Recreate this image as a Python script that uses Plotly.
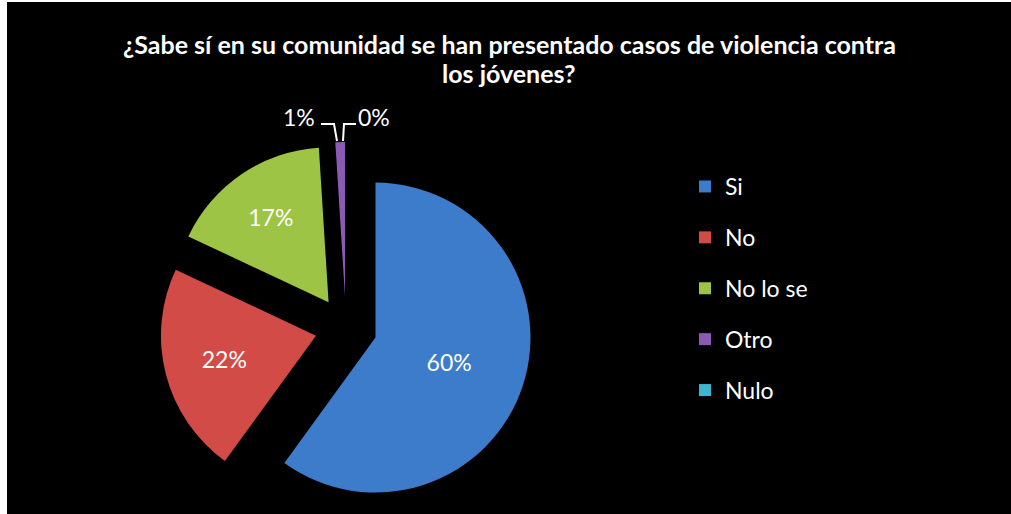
import plotly.graph_objects as go

# ---- data ----
categories = ["Si", "No", "No lo se", "Otro", "Nulo"]
values = [60, 22, 17, 1, 0]
colors = ["#3D7CCB", "#D34B47", "#9DC444", "#8A5AB4", "#3FB4D0"]
title_line1 = "¿Sabe sí en su comunidad se han presentado casos de violencia contra"
title_line2 = "los jóvenes?"

W, H = 1011, 514
FONT = "Lato"

total = sum(values)
pct_text = [f"{round(v / total * 100)}%" for v in values]
textpos = ["inside", "inside", "inside", "none", "none"]

fig = go.Figure()

fig.add_trace(go.Pie(
    labels=categories,
    values=values,
    sort=False,
    direction="clockwise",
    rotation=0,
    pull=[0.2] * len(values),
    marker=dict(colors=colors, line=dict(width=0)),
    text=pct_text,
    textinfo="text",
    textposition=textpos,
    insidetextorientation="horizontal",
    textfont=dict(family=FONT, size=23, color="white"),
    domain=dict(x=[157 / W, 535 / W], y=[0, 0.7237]),
    showlegend=False,
    hoverinfo="label+percent",
))

# legend entries (one per category)
for cat, col in zip(categories, colors):
    fig.add_trace(go.Scatter(
        x=[None], y=[None], mode="markers", name=cat,
        legendgroup=cat,
        marker=dict(symbol="square", size=12, color=col),
        showlegend=True,
    ))


def px(x):
    return x / W


def py(y):
    return 1 - y / H


# title (two centred lines)
fig.add_annotation(x=px(509), y=py(44), xref="paper", yref="paper",
                   xanchor="center", yanchor="middle", text=f"<b>{title_line1}</b>",
                   showarrow=False, font=dict(family=FONT, size=25, color="white"))
fig.add_annotation(x=px(509), y=py(73), xref="paper", yref="paper",
                   xanchor="center", yanchor="middle", text=f"<b>{title_line2}</b>",
                   showarrow=False, font=dict(family=FONT, size=25, color="white"))

# labels for the small slices with leader lines
fig.add_annotation(x=px(299), y=py(117), xref="paper", yref="paper",
                   xanchor="center", yanchor="middle",
                   text=pct_text[3], showarrow=False,
                   font=dict(family=FONT, size=23, color="white"))
fig.add_annotation(x=px(374), y=py(117), xref="paper", yref="paper",
                   xanchor="center", yanchor="middle",
                   text=pct_text[4], showarrow=False,
                   font=dict(family=FONT, size=23, color="white"))


def path(pts):
    return "M " + " L ".join(f"{px(a)} {py(b)}" for a, b in pts)


shapes = [
    dict(type="rect", xref="paper", yref="paper", x0=0, x1=px(7), y0=0, y1=1,
         fillcolor="white", line=dict(width=0), layer="above"),
    dict(type="rect", xref="paper", yref="paper", x0=0, x1=1, y0=py(2), y1=1,
         fillcolor="white", line=dict(width=0), layer="above"),
    dict(type="path", xref="paper", yref="paper",
         path=path([(321, 124), (334, 124), (337, 141)]),
         line=dict(color="white", width=2)),
    dict(type="path", xref="paper", yref="paper",
         path=path([(343, 141), (344, 124), (356, 124)]),
         line=dict(color="white", width=2)),
]

fig.update_layout(
    width=W, height=H,
    margin=dict(l=0, r=0, t=0, b=0),
    paper_bgcolor="black",
    plot_bgcolor="black",
    xaxis=dict(visible=False, range=[0, 1]),
    yaxis=dict(visible=False, range=[0, 1]),
    legend=dict(x=px(685), y=py(165), xanchor="left", yanchor="top",
                font=dict(family=FONT, size=23, color="white"),
                bgcolor="rgba(0,0,0,0)", tracegroupgap=18),
    shapes=shapes,
)

fig.write_html("out.html")
